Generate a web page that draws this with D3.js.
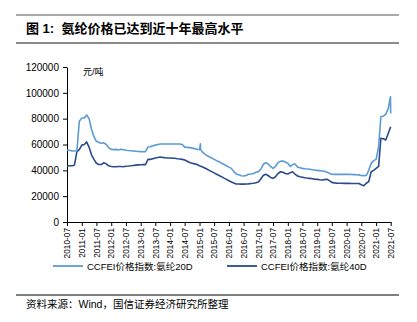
<!DOCTYPE html>
<html><head><meta charset="utf-8">
<script src="https://cdn.jsdelivr.net/npm/d3@7"></script>
<style>
body{margin:0;background:#fff;}
svg text{font-family:"Liberation Sans",Arial,"Noto Sans CJK SC",sans-serif;}
</style></head>
<body><svg id="c" width="417" height="322"></svg>
<script>
const titleText = "图 1:  氨纶价格已达到近十年最高水平";
const sourceText = "资料来源：Wind，国信证券经济研究所整理";
const unitText = "元/吨";
const seriesNames = ["CCFEI价格指数:氨纶20D", "CCFEI价格指数:氨纶40D"];
const startMonth = "2010-07";
const endMonth = "2021-07";
const yTicks = [0, 20000, 40000, 60000, 80000, 100000, 120000];
// monthly values, 2010-07 .. 2021-07
const values20D = [
55500,55500,55000,55000,55200,78000,80500,80500,82800,80000,
72000,66000,62500,61500,61000,61300,60000,57500,56200,56000,
56200,55800,56300,56000,55500,55300,55200,55000,54800,54600,
54500,54400,54400,58000,58300,59000,59500,60000,60400,60400,
60400,60400,60400,60400,60400,60400,60400,60000,58000,57800,
57600,57200,56800,56300,56000,54500,53000,51500,50500,49500,
48500,47500,46700,45500,44500,43500,42500,41500,39000,37200,
36500,35800,35600,36000,37000,37200,37500,38500,39000,41000,
44500,45900,45000,43000,41500,43000,46000,47000,47200,46500,
45400,43000,44500,44900,42500,42000,41500,41200,41000,40800,
40500,40200,40000,39800,39500,39200,38500,37800,37000,36900,
36900,36900,36900,36900,36900,36900,36800,36700,36600,36500,
36000,35900,36000,40000,45400,47500,48500,58300,81500,82000,
83500,88000,84000];
// extra in-month readings (date, value) for 20D
const extraDates20D = ["2015-01-12", "2015-01-14", "2021-06-28"];
const extraValues20D = [60500, 56200, 97000];
const values40D = [
43400,43500,43500,44000,54500,56000,59500,60000,62000,58000,
52000,48500,45500,44500,44500,45900,45000,43500,43000,42800,
42800,43000,43000,42800,43200,43300,43500,43800,44000,44200,
44300,44400,44400,48500,48500,49000,49500,50000,50300,50000,
49800,49600,49500,49400,49300,49000,48800,48500,48000,47000,
46000,45500,45000,44500,43500,42800,42000,41000,40000,39000,
38000,37000,36000,35100,34000,33000,32000,31000,30200,29400,
29400,29300,29300,29400,29500,29800,30000,30400,31000,33500,
36000,36900,36000,34500,33800,35000,37500,38900,38500,37500,
37200,38200,38900,37000,35600,35000,34700,34300,34000,33800,
33500,33200,33000,32700,32500,32800,33100,32000,30700,30300,
30100,30000,30000,29900,29900,29900,29800,29800,29800,29800,
28800,28100,30000,31200,38900,40000,41500,43000,64800,64500,
63500,68700,73800];
const colors = ["#5b9bd5", "#2a4a8b"];

const svg = d3.select("#c");
const parse = d3.timeParse("%Y-%m");
const parseDay = d3.timeParse("%Y-%m-%d");
const t0 = parse(startMonth), t1 = parse(endMonth);
const months = d3.timeMonth.range(t0, d3.timeMonth.offset(t1, 1));

const x = d3.scaleTime().domain([t0, t1]).range([67, 390.7]);
const y = d3.scaleLinear().domain([0, 120000]).range([222, 67]);

// title bars
svg.append("line").attr("x1",16).attr("x2",399).attr("y1",15).attr("y2",15).attr("stroke","#8c8c8c").attr("stroke-width",1.3);
svg.append("line").attr("x1",16).attr("x2",399).attr("y1",43).attr("y2",43).attr("stroke","#8c8c8c").attr("stroke-width",2);
svg.append("text").attr("x",26).attr("y",33).attr("font-size",13).attr("font-weight","bold").attr("fill","#000")
  .attr("xml:space","preserve").style("white-space","pre").text(titleText);

// axes
const yAxis = d3.axisLeft(y).tickValues(yTicks).tickSize(4).tickSizeOuter(0).tickFormat(d3.format("d"));
const gy = svg.append("g").attr("transform","translate(67,0)").call(yAxis);
gy.selectAll("text").attr("font-size",10).attr("fill","#000").attr("dx","-1");
gy.selectAll("line,path").attr("stroke","#000");

const xTicks = d3.timeMonth.every(6).range(t0, d3.timeMonth.offset(t1,1));
const xAxis = d3.axisBottom(x).tickValues(xTicks).tickSize(4).tickSizeOuter(0).tickFormat(d3.timeFormat("%Y-%m"));
const gx = svg.append("g").attr("transform","translate(0,222)").call(xAxis);
gx.selectAll("line,path").attr("stroke","#000");
gx.selectAll("text").attr("font-size",8.3).attr("fill","#000")
  .attr("transform","rotate(-90)").attr("text-anchor","end")
  .attr("x",-6).attr("y",0).attr("dy","0.33em");

svg.append("text").attr("x",83).attr("y",75).attr("font-size",9).attr("fill","#000").text(unitText);

// lines
const line = d3.line().x(d=>x(d[0])).y(d=>y(d[1]));
const d40 = months.map((m,k)=>[m, values40D[k]]);
const d20 = months.map((m,k)=>[m, values20D[k]])
  .concat(extraDates20D.map((s,k)=>[parseDay(s), extraValues20D[k]]))
  .sort((a,b)=>a[0]-b[0]);
[[d40, colors[1]], [d20, colors[0]]].forEach(([data,col])=>{
  svg.append("path").datum(data).attr("d",line).attr("fill","none")
    .attr("stroke", col).attr("stroke-width",1.6).attr("stroke-linejoin","round");
});

// legend
const legX = [53, 227];
seriesNames.forEach((n,i)=>{
  svg.append("line").attr("x1",legX[i]).attr("x2",legX[i]+30).attr("y1",266).attr("y2",266)
    .attr("stroke",colors[i]).attr("stroke-width",1.8);
  svg.append("text").attr("x",legX[i]+34).attr("y",269.5).attr("font-size",9.5).attr("fill","#000").text(n);
});

// source
svg.append("line").attr("x1",16).attr("x2",399).attr("y1",295).attr("y2",295).attr("stroke","#000").attr("stroke-width",1);
svg.append("text").attr("x",26).attr("y",308).attr("font-size",10.5).attr("fill","#000").text(sourceText);
</script></body></html>
